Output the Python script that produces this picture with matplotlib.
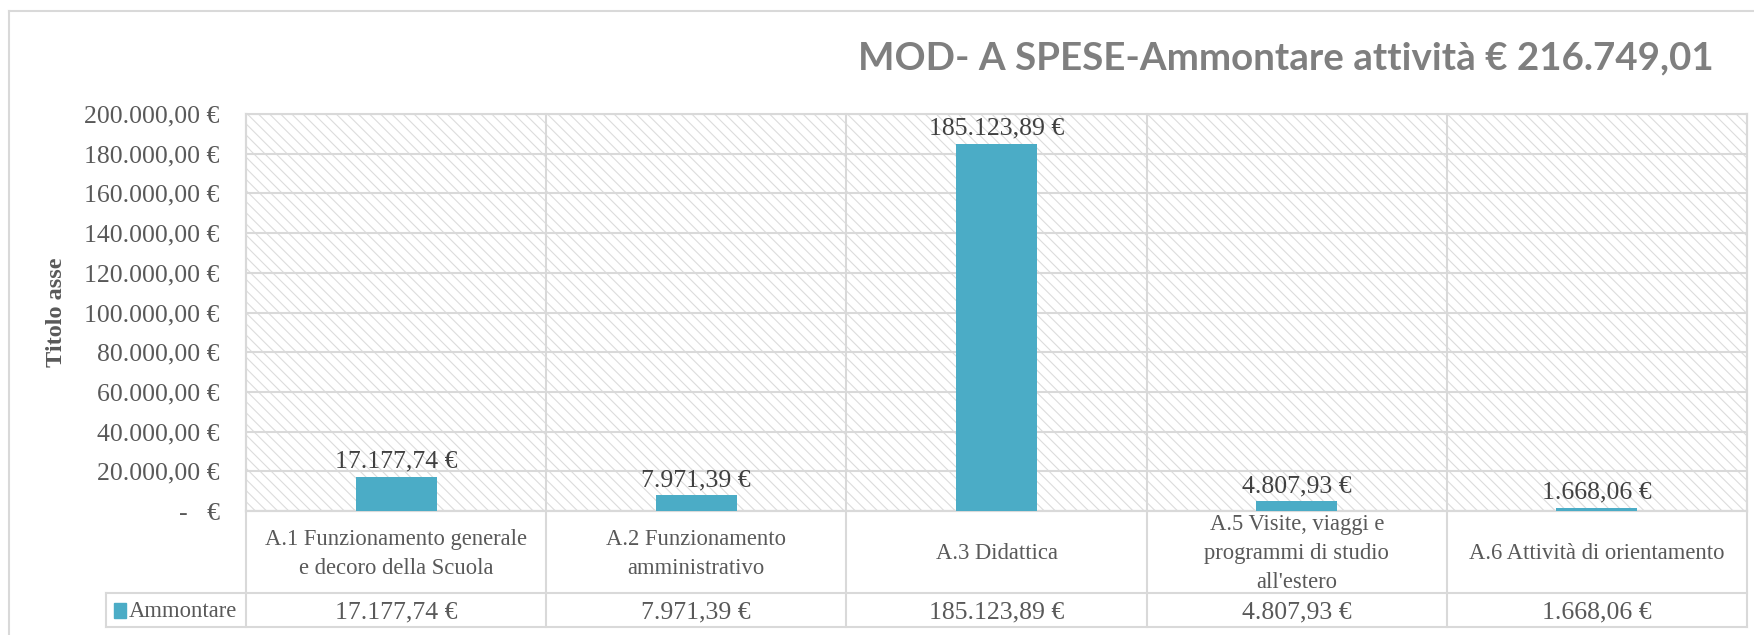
import matplotlib.pyplot as plt
from matplotlib.patches import Rectangle
from matplotlib.ticker import FuncFormatter, MultipleLocator

# ---------- dati ----------
categorie = [
    "A.1 Funzionamento generale\ne decoro della Scuola",
    "A.2 Funzionamento\namministrativo",
    "A.3 Didattica",
    "A.5 Visite, viaggi e\nprogrammi di studio\nall'estero",
    "A.6 Attività di orientamento",
]
ammontare = [17177.74, 7971.39, 185123.89, 4807.93, 1668.06]
serie = "Ammontare"
titolo = "MOD- A SPESE-Ammontare attività € 216.749,01"
titolo_asse = "Titolo asse"

SERIF = "Liberation Serif"
GRIGIO = "#d9d9d9"
TESTO = "#595959"
BARRA = "#4bacc6"
FS_NUM = 18.5   # le cifre di Cambria sono larghe
FS_TXT = 16.3


def euro(v, pos=None):
    if v == 0:
        return "-   €"
    s = f"{v:,.2f}".replace(",", "X").replace(".", ",").replace("X", ".")
    return s + " €"


plt.rcParams['hatch.linewidth'] = 0.8

fig = plt.figure(figsize=(17.54, 6.35), dpi=100)
W, H = 1754, 635
x0, x1, y0, y1 = 246, 1747, 114, 511
ax = fig.add_axes([x0 / W, 1 - y1 / H, (x1 - x0) / W, (y1 - y0) / H])

# sfondo tratteggiato
ax.add_patch(Rectangle((0, 0), 1, 1, transform=ax.transAxes, facecolor='white',
                       edgecolor='#dcdcdc', hatch='\\\\\\', lw=0, zorder=0))

x = list(range(len(categorie)))
ax.bar(x, ammontare, width=0.27, color=BARRA, zorder=3)
for xi, v in zip(x, ammontare):
    ax.annotate(euro(v), (xi, v), xytext=(0, 3), textcoords='offset points',
                ha='center', va='bottom', fontsize=FS_NUM, family=SERIF, color='#404040', zorder=4)

ax.set_xlim(-0.5, len(categorie) - 0.5)
ax.set_ylim(0, 200000)
ax.yaxis.set_major_locator(MultipleLocator(20000))
ax.yaxis.set_major_formatter(FuncFormatter(euro))
ax.tick_params(axis='y', length=0, pad=19, labelsize=FS_NUM, labelcolor=TESTO)
for lab in ax.get_yticklabels():
    lab.set_family(SERIF)
ax.set_xticks([])
ax.grid(axis='y', color=GRIGIO, lw=1.5, zorder=1)
ax.set_axisbelow(True)
for sp in ax.spines.values():
    sp.set_color(GRIGIO)
    sp.set_linewidth(1.5)

ax.set_ylabel(titolo_asse, family=SERIF, fontsize=17.5, fontweight='bold', color=TESTO)
ax.yaxis.set_label_coords(-(x0 - 67) / (x1 - x0), 0.5)

# ---------- tabella dati ----------
tr = ax.get_xaxis_transform()
r1 = -(593 - y1) / (y1 - y0)
r2 = -(627 - y1) / (y1 - y0)
xl = -0.5 - (x0 - 106) / ((x1 - x0) / len(categorie))
kw = dict(transform=tr, color=GRIGIO, lw=1.5, clip_on=False, zorder=2)
for b in [i - 0.5 for i in range(len(categorie) + 1)]:
    ax.plot([b, b], [1, r2], **kw)
ax.plot([-0.5, len(categorie) - 0.5], [0, 0], **kw)
ax.plot([xl, len(categorie) - 0.5], [r1, r1], **kw)
ax.plot([xl, len(categorie) - 0.5], [r2, r2], **kw)
ax.plot([xl, xl], [r1, r2], **kw)

for xi, cat, v in zip(x, categorie, ammontare):
    ax.text(xi, r1 / 2 - 0.005, cat, transform=tr, ha='center', va='center', fontsize=FS_TXT,
            family=SERIF, color=TESTO, linespacing=1.5)
    ax.text(xi, (r1 + r2) / 2 - 0.005, euro(v), transform=tr, ha='center', va='center',
            fontsize=FS_NUM, family=SERIF, color=TESTO)

ax.add_patch(Rectangle((xl + 0.025, (r1 + r2) / 2 - 0.02), 0.04, 0.038, transform=tr,
                       color=BARRA, clip_on=False))
ax.text(xl + 0.075, (r1 + r2) / 2 - 0.005, serie, transform=tr, ha='left', va='center',
        fontsize=FS_TXT, family=SERIF, color=TESTO)

# titolo e bordo esterno
fig.text(1714 / W, 1 - 58 / H, titolo, ha='right', va='center', fontsize=27.7,
         family='Lato', fontweight='bold', color='#7f7f7f')
fig.add_artist(plt.Line2D([9 / W, 9 / W], [0, 1 - 11 / H], color=GRIGIO, lw=1.5))
fig.add_artist(plt.Line2D([9 / W, 1], [1 - 11 / H, 1 - 11 / H], color=GRIGIO, lw=1.5))

fig.savefig("out.png", dpi=100, facecolor='white')
